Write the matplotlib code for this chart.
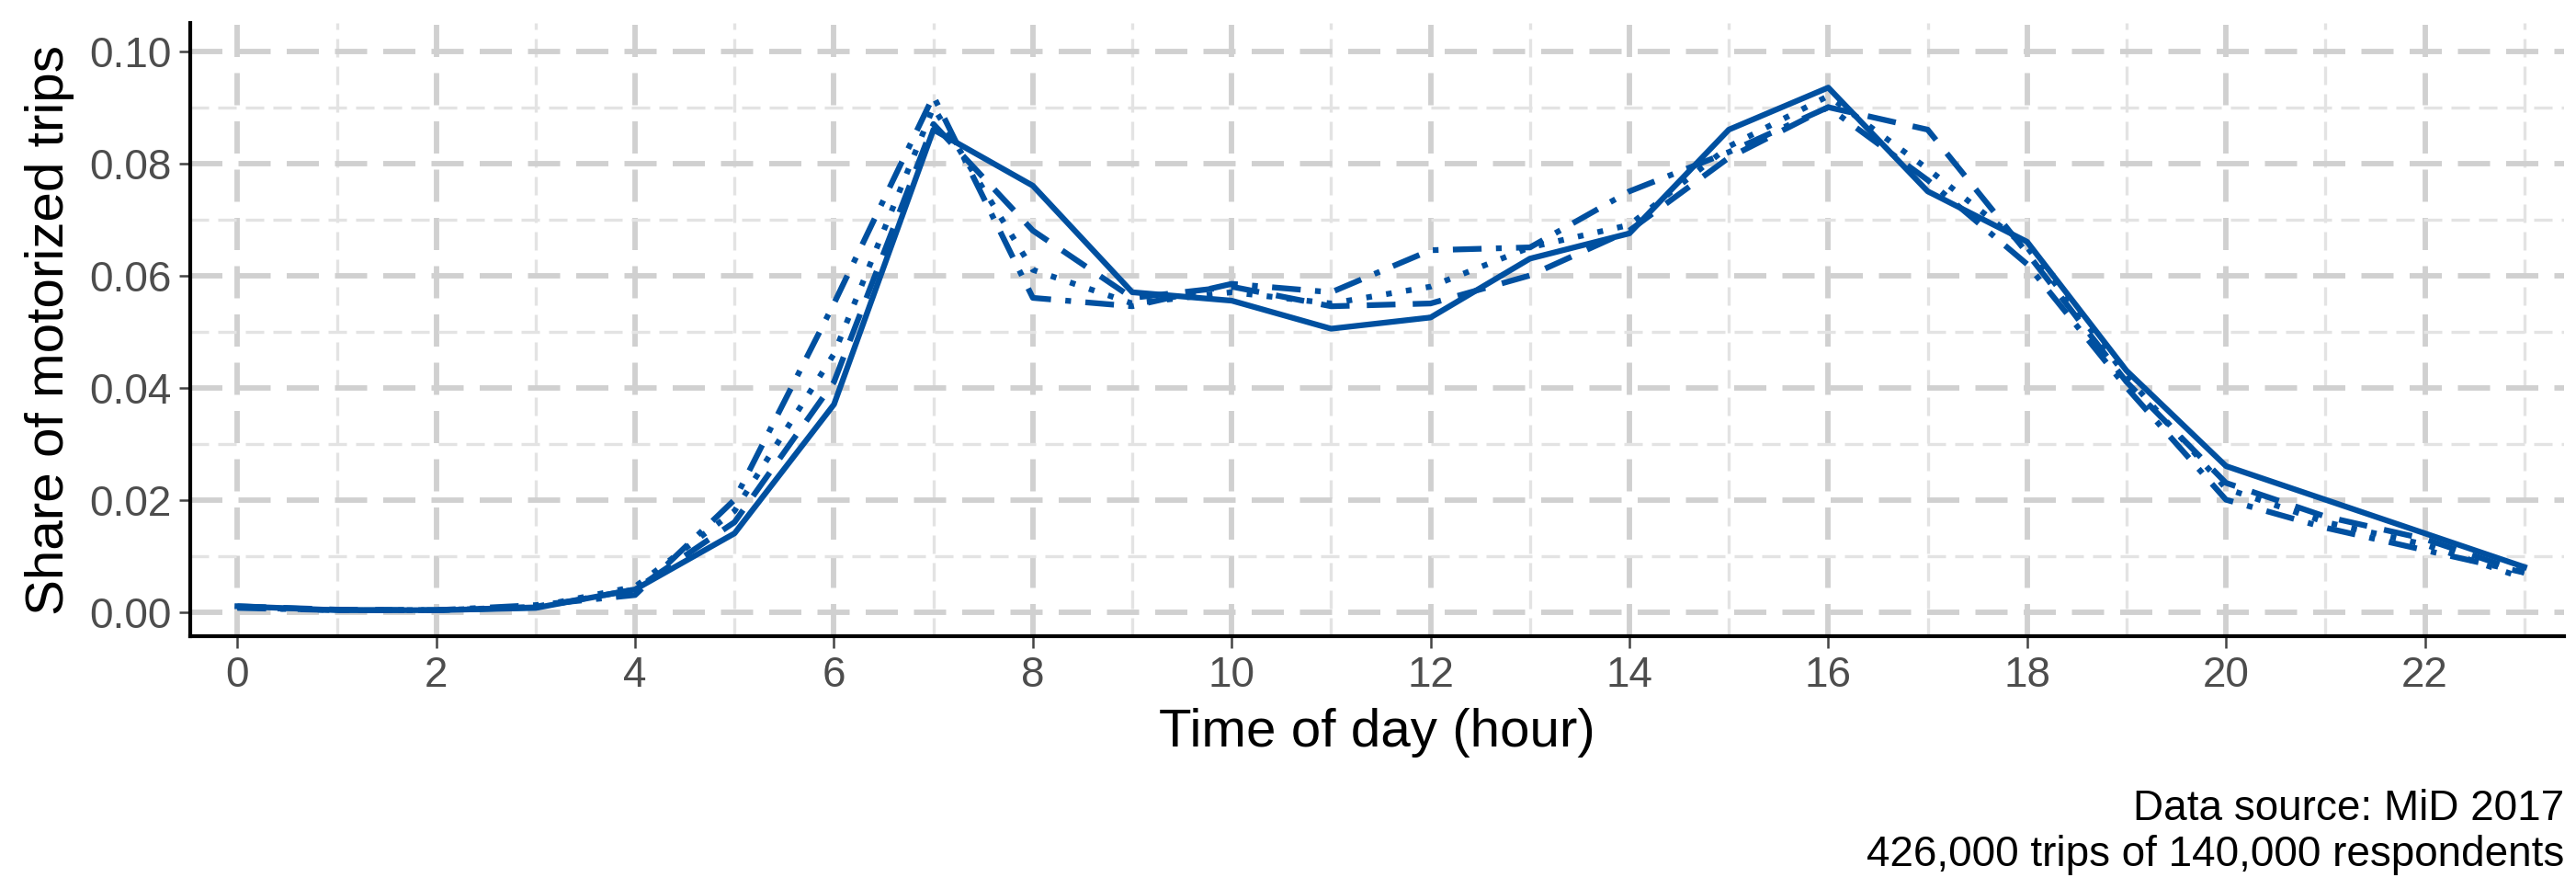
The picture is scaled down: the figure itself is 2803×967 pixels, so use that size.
import matplotlib
matplotlib.use("Agg")
import matplotlib.pyplot as plt
import numpy as np

plt.rcParams['font.family'] = ['Liberation Sans', 'DejaVu Sans']

hours = list(range(24))
solid = [0.001,0.0003,0.0003,0.0007,0.004,0.014,0.037,0.086,0.076,0.057,0.0555,0.0505,0.0525,0.063,0.0675,0.086,0.0935,0.075,0.066,0.043,0.026,0.020,0.014,0.008]
dashed = [0.001,0.0004,0.0003,0.0008,0.004,0.016,0.041,0.087,0.068,0.056,0.058,0.0545,0.055,0.060,0.068,0.081,0.090,0.086,0.064,0.041,0.023,0.017,0.013,0.007]
dotted = [0.0008,0.0003,0.0003,0.0009,0.0045,0.018,0.046,0.090,0.061,0.055,0.057,0.055,0.058,0.065,0.069,0.083,0.092,0.079,0.065,0.042,0.022,0.016,0.012,0.006]
dashdot = [0.0007,0.0003,0.0003,0.0012,0.003,0.020,0.055,0.092,0.056,0.0545,0.0585,0.057,0.0645,0.065,0.075,0.082,0.090,0.077,0.062,0.040,0.020,0.015,0.011,0.007]
series = [solid, dashed, dotted, dashdot]
styles = ['-', (0,(5,3)), (0,(1,2.5)), (0,(5,2.5,1,2.5))]

fig = plt.figure(figsize=(2804/300, 967/300), dpi=300)
ax = fig.add_axes([0.074, 0.284, 0.921, 0.69])
color = '#0050a0'
for s, ls in zip(series, styles):
    ax.plot(hours, s, color=color, lw=1.5, linestyle=ls, zorder=3)

ax.set_xlim(-0.47, 23.4)
ax.set_ylim(-0.0044, 0.105)
ax.set_xticks(range(0, 24, 2))
ax.set_xticks(range(1, 24, 2), minor=True)
ax.set_yticks([0, 0.02, 0.04, 0.06, 0.08, 0.10])
ax.set_yticks([0.01, 0.03, 0.05, 0.07, 0.09], minor=True)
ax.set_yticklabels(['0.00','0.02','0.04','0.06','0.08','0.10'])
ax.grid(which='major', color='#d0d0d0', lw=1.4, linestyle=(0,(6,3)), zorder=0)
ax.grid(which='minor', color='#e3e3e3', lw=0.8, linestyle=(0,(6,3)), zorder=0)
ax.tick_params(which='major', labelsize=11, colors='#444444', length=3, width=0.6, pad=2)
ax.tick_params(which='minor', length=0)
ax.tick_params(axis='both', labelcolor='#4d4d4d')
for sp in ['top','right']:
    ax.spines[sp].set_visible(False)
for sp in ['left','bottom']:
    ax.spines[sp].set_linewidth(1.0)
ax.set_xlabel('Time of day (hour)', fontsize=14, labelpad=3)
ax.set_ylabel('Share of motorized trips', fontsize=14, labelpad=4)
fig.text(0.995, 0.015, 'Data source: MiD 2017\n426,000 trips of 140,000 respondents',
         ha='right', va='bottom', fontsize=11, linespacing=1.2)
fig.savefig('out.png', dpi=300, facecolor='white')
